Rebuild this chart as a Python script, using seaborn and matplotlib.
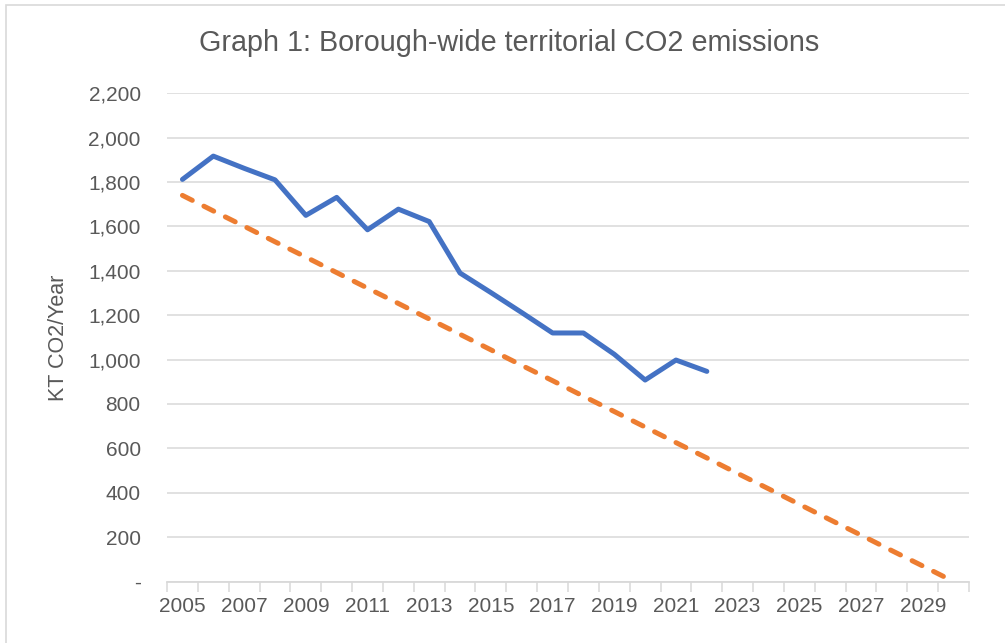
import matplotlib.pyplot as plt
import matplotlib.patches as mpatches
import pandas as pd
import seaborn as sns

# data
years_actual = [2005, 2006, 2007, 2008, 2009, 2010, 2011, 2012, 2013, 2014,
                2015, 2016, 2017, 2018, 2019, 2020, 2021, 2022]
emissions = [1812, 1917, 1862, 1810, 1650, 1731, 1585, 1678, 1622, 1390,
             1302, 1212, 1120, 1120, 1024, 908, 998, 947]

years_target = list(range(2005, 2031))
target = [1740, 1670, 1601, 1531, 1462, 1392, 1322, 1253, 1183, 1114,
          1044, 974, 905, 835, 766, 696, 626, 557, 487, 418,
          348, 278, 209, 139, 70, 0]

y_ticks = [0, 200, 400, 600, 800, 1000, 1200, 1400, 1600, 1800, 2000, 2200]
y_labels = ['-', '200', '400', '600', '800', '1,000', '1,200', '1,400',
            '1,600', '1,800', '2,000', '2,200']
x_labels = list(range(2005, 2030, 2))

sns.set_theme(style="white")
plt.rcParams['font.family'] = ['Liberation Sans', 'DejaVu Sans']

text_grey = '#595959'
grid_grey = '#D9D9D9'

fig = plt.figure(figsize=(10.05, 6.43), dpi=100)
ax = fig.add_axes([0.1662, 0.0956, 0.798, 0.7593])

df_actual = pd.DataFrame({'year': years_actual, 'value': emissions})
df_target = pd.DataFrame({'year': years_target, 'value': target})

sns.lineplot(data=df_actual, x='year', y='value', ax=ax, color='#4472C4',
             linewidth=3.6, solid_capstyle='round', solid_joinstyle='round', zorder=3)
sns.lineplot(data=df_target, x='year', y='value', ax=ax, color='#ED7D31',
             linewidth=3.6, dashes=False, zorder=3)
ax.lines[-1].set_dashes((2.2, 2.6))
ax.lines[-1].set_dash_capstyle('round')

ax.set_xlim(2004.5, 2030.5)
ax.set_ylim(0, 2200)

# y axis
ax.set_yticks(y_ticks, y_labels)
ax.yaxis.grid(True, color=grid_grey, linewidth=1.1)
ax.tick_params(axis='y', length=0, pad=19, labelsize=15, labelcolor=text_grey)

# x axis: tick marks between categories, labels on every other year
ax.set_xticks([y + 0.5 for y in range(2004, 2031)], [''] * 27)
ax.set_xticks(x_labels, [str(x) for x in x_labels], minor=True)
ax.tick_params(axis='x', which='major', length=7, width=1.1, color=grid_grey,
               direction='out', bottom=True)
ax.tick_params(axis='x', which='minor', length=0, pad=11, labelsize=15,
               labelcolor=text_grey)
ax.xaxis.grid(False)

for side in ['top', 'right', 'left']:
    ax.spines[side].set_visible(False)
ax.spines['bottom'].set_color(grid_grey)
ax.spines['bottom'].set_linewidth(1.3)
ax.set_xlabel('')
ax.set_ylabel('')

fig.text(0.507, 0.933, 'Graph 1: Borough-wide territorial CO2 emissions',
         ha='center', va='center', fontsize=20.7, color=text_grey)
fig.text(59 / 1005, 1 - 338 / 643, 'KT CO2/Year', rotation=90,
         ha='center', va='center', fontsize=15.5, color=text_grey)

# chart border
fig.patches.append(mpatches.Rectangle((6 / 1005, -0.05), 1.2, 1 - 5 / 643 + 0.05,
                                      transform=fig.transFigure, fill=False,
                                      edgecolor=grid_grey, linewidth=1.2))

fig.savefig('out.png', dpi=100)
